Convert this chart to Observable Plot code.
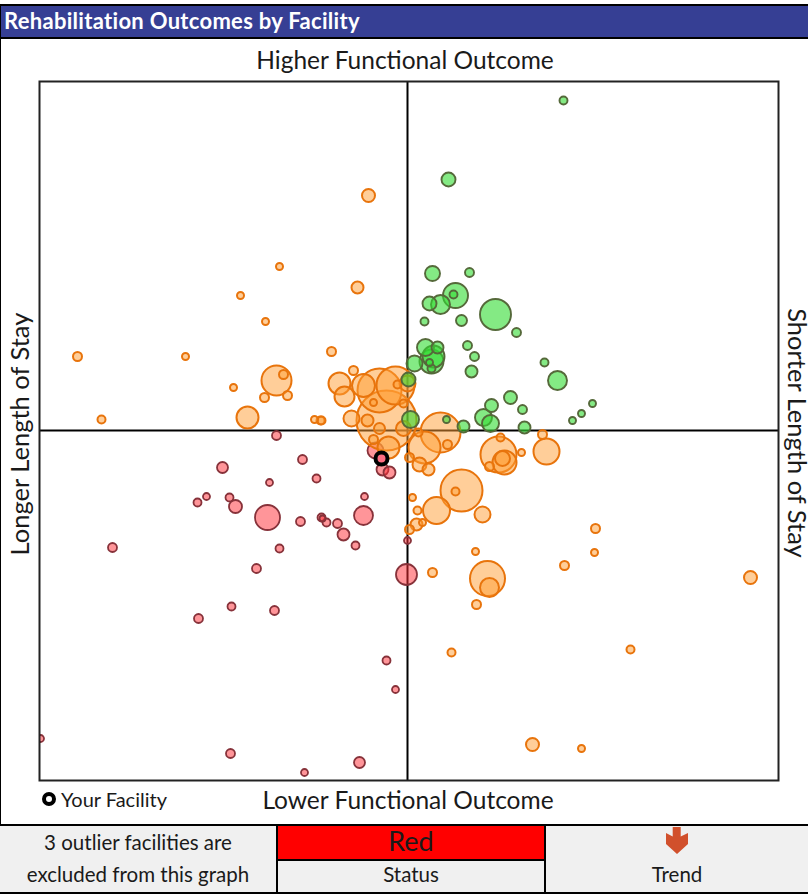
<!DOCTYPE html>
<html><head><meta charset="utf-8">
<script src="https://cdn.jsdelivr.net/npm/d3@7"></script>
<script src="https://cdn.jsdelivr.net/npm/@observablehq/plot@0.6"></script>
<style>
html,body{margin:0;padding:0;background:#fff}
#page{position:relative;width:808px;height:894px;overflow:hidden;font-family:Lato,sans-serif;color:#1a1a1a}
#head{position:absolute;left:0;top:4px;width:808px;height:35px;box-sizing:border-box;background:#363f94;border-top:2px solid #000;border-bottom:2px solid #000;border-left:1px solid #000;color:#fff;font-weight:700;font-size:22px;line-height:30px;padding-left:3px;letter-spacing:.3px}
#edge{position:absolute;left:0;top:39px;width:808px;height:786px;box-sizing:border-box;border-left:1px solid #000}
#chart{position:absolute;left:0;top:40px}
#legend{position:absolute;left:42px;top:788px;font-size:20px;line-height:22px;display:flex;align-items:center}
#legend i{display:inline-block;box-sizing:border-box;width:14px;height:14px;border:4px solid #000;border-radius:50%;background:#fff;margin-right:5px}
#foot{position:absolute;left:0;top:824px;width:808px;height:70px;background:#f0f0f0;border-top:2px solid #000;border-bottom:2px solid #000;box-sizing:border-box;font-size:20.5px}
.c{position:absolute;text-align:center;box-sizing:border-box}
svg text{font-family:Lato,sans-serif}
</style></head><body>
<div id="page">
<div id="head"></div>
<div id="edge"></div>
<div id="chart"></div>
<div id="legend"><i></i><span id="legendText"></span></div>
<div id="foot">
 <div class="c" id="note" style="left:0;top:0;width:276px;height:66px;line-height:32px"></div>
 <div class="c" style="left:276px;top:0;width:2px;height:66px;background:#000"></div>
 <div class="c" id="status" style="left:278px;top:0;width:266px;height:33px;background:#f00;font-size:27px;line-height:29px"></div>
 <div class="c" style="left:278px;top:33px;width:266px;height:2px;background:#000"></div>
 <div class="c" id="statusLabel" style="left:278px;top:35px;width:266px;height:31px;line-height:27px"></div>
 <div class="c" style="left:544px;top:0;width:2px;height:66px;background:#000"></div>
 <div class="c" id="trendLabel" style="left:546px;top:35px;width:262px;height:31px;line-height:27px"></div>
 <svg class="c" style="left:666px;top:1px" width="23" height="28" viewBox="0 0 23 28"><path d="M6.7 0H14.7V9.5L22 6V17L11 27L0 17V6L6.7 9.5Z" fill="#d1502c"/></svg>
</div>
</div>
<script>
const titleText = "Rehabilitation Outcomes by Facility";
const topLabel = "Higher Functional Outcome";
const bottomLabel = "Lower Functional Outcome";
const leftLabel = "Longer Length of Stay";
const rightLabel = "Shorter Length of Stay";
const legendLabel = "Your Facility";
const noteLines = ["3 outlier facilities are", "excluded from this graph"];
const statusValue = "Red";
const statusCaption = "Status";
const trendCaption = "Trend";

// Each entry: [length-of-stay score, functional-outcome score, size]
const redFacilities = [
 [-32,-20,8],[-25,-39,6],[-18,-42,6],[-131,-5,4.5],[-105,-29,4.5],[-185,-37,5.5],[-91,-48,4],[-138,-52,3.5],
 [-43,-66,3.5],[-201,-66,3.5],[-210,-72,4],[-178,-67,4],[-172,-76,6.5],[-140,-87,12.5],[-107,-91,4.5],
 [-86,-87,4],[-85,-88,3],[-81,-92,4],[-70,-93,4.5],[-44,-85,9.5],[-64,-104,6],[-52,-115,4],[-295,-117,4.5],
 [-128,-118,4],[-151,-138,4.5],[-133,-180,4.5],[-176,-176,4],[-209,-188,4.5],[-21,-230,4],[-12,-259,3.5],
 [-367,-308,3.5],[-177,-323,4.5],[-103,-342,3.5],[-48,-332,5.5],[-1,-144,10.5],[0,-110,3.5]
];
const orangeFacilities = [
 [-39,235,6.5],[-128,164,3.5],[-167,135,3.5],[-142,109,3.5],[-50,143,6],[-76,79,4.5],[-330,74,4.5],[-222,74,3.5],
 [-131,50,15],[-124,56,4.5],[-174,43,3.5],[-143,33,4.5],[-120,35,4.5],[-160,13,11],[-306,11,4],[-93,11,3.5],[-87,10,4],
 [-68,47,11],[-54,60,4.5],[-63,34,10],[-44,45,11.5],[-28,40,22],[-12,45,19],[-10,46,4],[0,47,8],
 [-21,10,30],[-34,28,3.5],[-4,27,4],[-56,12,8],[-40,10,6],[-86,10,4],[-28,2,5.5],[-4,2,7.5],[-34,-9,4.5],[-19,-17,11],
 [33,-2,20],[17,-17,16],[11,-2,4],[40,-14,4.5],[2,-27,4.5],[12,-34,7],[21,-39,6],
 [91,-24,18],[93,-7,4],[135,-4,4.5],[139,-21,13],[114,-22,3.5],[97,-32,12],[95,-28,7.5],[82,-36,4.5],
 [54,-60,21],[48,-61,4],[5,-67,3.5],[29,-80,13.5],[10,-80,4],[75,-84,8],[9,-94,6],[15,-92,3.5],[2,-99,4.5],
 [188,-98,4.5],[187,-122,3.5],[157,-135,4.5],[343,-147,6.5],[68,-121,3.5],[25,-142,4.5],[80,-148,17.5],[82,-157,9.5],
 [69,-174,4.5],[44,-222,4],[223,-219,4],[125,-314,6.5],[174,-318,3.5]
];
const greenFacilities = [
 [156,330,4],[41,251,7],[25,157,7.5],[62,158,4.5],[48,135,12.5],[46,136,4],[22,127,7],[33,126,9.5],[17,109,4],[54,110,5.5],
 [88,116,15.5],[109,98,4.5],[60,85,4.5],[67,74,4.5],[64,59,6],[18,83,8.5],[30,83,6],[26,74,11],[24,69,12],[7,67,8],
 [22,68,3.5],[24,62,4],[1,51,7],[137,68,4],[150,50,9.5],[103,33,6.5],[84,25,6.5],[115,21,4.5],[76,13,8.5],[83,7,8.5],
 [117,3,6],[185,27,3.5],[174,17,3.5],[165,10,3.5],[56,4,6],[39,11,3.5],[3,11,8.5]
];
const yourFacility = [[-26,-28,6]];

const toRows = a => a.map(([x, y, r]) => ({x, y, r}));
const pointOpts = {x:"x", y:"y", r:"r", clip:"frame"};
const labelStyle = {fontSize:24.5, fill:"#1a1a1a", textAnchor:"middle"};

const chart = Plot.plot({
  width: 808, height: 784,
  marginLeft: 39, marginRight: 30, marginTop: 41, marginBottom: 44,
  x: {domain: [-368, 371], axis: null},
  y: {domain: [-350, 349], axis: null},
  r: {type: "identity"},
  marks: [
    Plot.ruleX([0], {stroke:"#000", strokeWidth:2}),
    Plot.ruleY([0], {stroke:"#000", strokeWidth:2}),
    Plot.dot(toRows(redFacilities), {...pointOpts, fill:"#ff2b33", fillOpacity:.5, stroke:"#87323a", strokeWidth:1.8}),
    Plot.dot(toRows(orangeFacilities), {...pointOpts, fill:"#ff9e33", fillOpacity:.5, stroke:"#e8740c", strokeWidth:2}),
    Plot.dot(toRows(greenFacilities), {...pointOpts, fill:"#32dc32", fillOpacity:.6, stroke:"#55693a", strokeWidth:1.9}),
    Plot.dot(toRows(yourFacility), {...pointOpts, fill:"#ff6e82", stroke:"#000", strokeWidth:4}),
    Plot.frame({stroke:"#222", strokeWidth:2}),
    Plot.text([topLabel], {...labelStyle, frameAnchor:"top", dx:-4, dy:-30}),
    Plot.text([bottomLabel], {...labelStyle, frameAnchor:"bottom", dx:-1, dy:28}),
    Plot.text([leftLabel], {...labelStyle, fontSize:25.5, frameAnchor:"left", dx:-19, dy:3, rotate:-90}),
    Plot.text([rightLabel], {...labelStyle, fontSize:25.5, frameAnchor:"right", dx:18, dy:2, rotate:90})
  ]
});
document.getElementById("chart").append(chart);
document.getElementById("head").textContent = titleText;
document.getElementById("legendText").textContent = legendLabel;
document.getElementById("note").innerHTML = noteLines.join("<br>");
document.getElementById("status").textContent = statusValue;
document.getElementById("statusLabel").textContent = statusCaption;
document.getElementById("trendLabel").textContent = trendCaption;
</script>
</body></html>
